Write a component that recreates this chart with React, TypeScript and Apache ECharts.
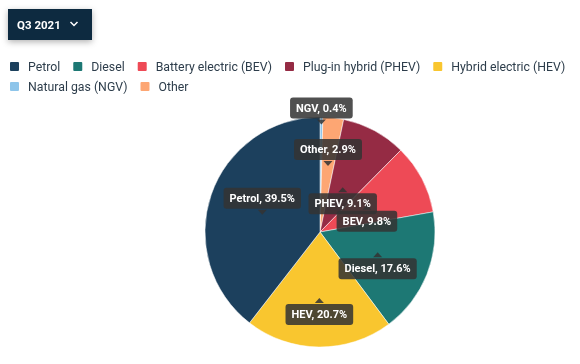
import React, { useEffect, useRef } from "react";
import * as echarts from "echarts";

// Legend order
const legendNames = [
  "Petrol",
  "Diesel",
  "Battery electric (BEV)",
  "Plug-in hybrid (PHEV)",
  "Hybrid electric (HEV)",
  "Natural gas (NGV)",
  "Other",
];

// Slices, clockwise from the top
const sliceNames = [
  "Natural gas (NGV)",
  "Other",
  "Plug-in hybrid (PHEV)",
  "Battery electric (BEV)",
  "Diesel",
  "Hybrid electric (HEV)",
  "Petrol",
];
const sliceShort = ["NGV", "Other", "PHEV", "BEV", "Diesel", "HEV", "Petrol"];
const sliceValues = [0.4, 2.9, 9.1, 9.8, 17.6, 20.7, 39.5];
const sliceColors = [
  "#8ec5ea",
  "#fda673",
  "#952b44",
  "#ee4a56",
  "#1d7874",
  "#f9c62f",
  "#1c405d",
];

const periodLabel = "Q3 2021";

// Callout label layout: pointer distance from the pie centre (px) and box side
const labelRadius = [110, 69, 48, 53, 62, 68.5, 61];
const labelBelow = [false, false, true, true, true, true, false];

const PIE_CENTER = [320, 232];
const PIE_RADIUS = 115;

export default function App() {
  const ref = useRef<HTMLDivElement>(null);

  useEffect(() => {
    if (!ref.current) return;
    const chart = echarts.init(ref.current, null, { renderer: "svg" });

    const total = sliceValues.reduce((a, b) => a + b, 0);
    let cum = 0;
    const labelPoints = sliceValues.map((v, i) => {
      const mid = ((cum + v / 2) / total) * 100;
      cum += v;
      return {
        name: sliceNames[i],
        value: [labelRadius[i], mid],
        symbolRotate: labelBelow[i] ? 0 : 180,
        short: sliceShort[i],
        pct: v,
        below: labelBelow[i],
      };
    });
    // draw from last slice to first so earlier slices' labels sit on top
    labelPoints.reverse();

    const visualData = sliceNames.map((n, i) => ({
      name: n,
      value: sliceValues[i],
      itemStyle: { color: sliceColors[i] },
    }));

    chart.setOption({
      animation: false,
      polar: { center: PIE_CENTER, radius: PIE_RADIUS },
      angleAxis: {
        type: "value",
        min: 0,
        max: 100,
        startAngle: 90,
        clockwise: true,
        show: false,
      },
      radiusAxis: { type: "value", min: 0, max: PIE_RADIUS, show: false },
      legend: {
        data: legendNames,
        left: 8,
        top: 59,
        width: 572,
        padding: 0,
        orient: "horizontal",
        itemWidth: 11,
        itemHeight: 11,
        itemGap: 5,
        icon: "path://M2,0H9A2,2 0 0 1 11,2V9A2,2 0 0 1 9,11H2A2,2 0 0 1 0,9V2A2,2 0 0 1 2,0Z",
        selectedMode: false,
        textStyle: {
          color: "#2d3d4b",
          fontFamily: "Roboto",
          fontSize: 12.3,
          lineHeight: 15,
          padding: [0, 6, 0, 3],
        },
      },
      graphic: [
        {
          type: "rect",
          shape: { x: 8, y: 9, width: 84, height: 31 },
          style: {
            fill: "#0b2b40",
            shadowBlur: 6,
            shadowOffsetY: 2,
            shadowColor: "rgba(0,0,0,0.3)",
          },
        },
        {
          type: "text",
          x: 17,
          y: 24.5,
          style: {
            text: periodLabel,
            fill: "#ffffff",
            font: "bold 11.5px Roboto",
            verticalAlign: "middle",
            align: "left",
          },
        },
        {
          type: "polyline",
          shape: {
            points: [
              [70.5, 22],
              [74, 25.5],
              [77.5, 22],
            ],
          },
          style: { stroke: "#ffffff", lineWidth: 1.5, fill: "none" },
        },
      ],
      series: [
        {
          type: "pie",
          center: PIE_CENTER,
          radius: [0, PIE_RADIUS],
          startAngle: 90,
          clockwise: true,
          data: visualData,
          label: { show: false },
          labelLine: { show: false },
          itemStyle: { borderColor: "#ffffff", borderWidth: 0.5 },
          emphasis: { disabled: true },
          silent: true,
        },
        {
          type: "scatter",
          coordinateSystem: "polar",
          data: labelPoints,
          symbol: "triangle",
          symbolSize: [9, 5],
          itemStyle: { color: "rgba(51,51,51,0.86)", opacity: 1 },
          silent: true,
          emphasis: { disabled: true },
          legendHoverLink: false,
          label: {
            show: true,
            position: "inside",
            formatter: (p: any) => {
              const box = `{box|${p.data.short}, ${Number(p.data.pct).toFixed(1)}%}`;
              return p.data.below ? `{sp| }\n${box}` : `${box}\n{sp| }`;
            },
            rich: {
              box: {
                align: "center",
                color: "#ffffff",
                fontFamily: "Roboto",
                fontWeight: "bold",
                fontSize: 11,
                lineHeight: 13,
                backgroundColor: "rgba(51,51,51,0.86)",
                borderRadius: 3,
                padding: [5, 6],
              },
              sp: {
                align: "center",
                fontSize: 5,
                lineHeight: 28,
              },
            },
          },
        },
      ],
    });

    return () => chart.dispose();
  }, []);

  return (
    <div
      ref={ref}
      style={{ position: "fixed", left: 0, top: 0, width: 580, height: 364 }}
    />
  );
}
